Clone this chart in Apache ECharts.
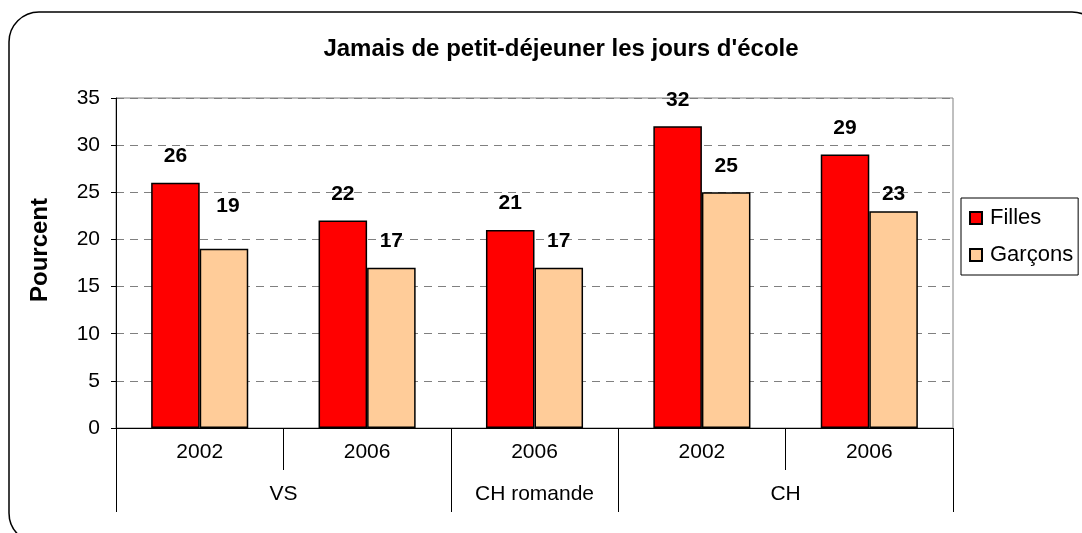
<!DOCTYPE html>
<html>
<head>
<meta charset="utf-8">
<script src="https://cdn.jsdelivr.net/npm/echarts@6/dist/echarts.min.js"></script>
<style>
  html, body { margin: 0; padding: 0; background: #fff; }
  #chart { width: 1082px; height: 533px; }
</style>
</head>
<body>
<div id="chart"></div>
<script>
// données
const years = ['2002', '2006', '2006', '2002', '2006'];
const groups = ['VS', 'CH romande', 'CH'];
const groupSpans = [2, 1, 2];
const filles = [26, 22, 21, 32, 29];
const garcons = [19, 17, 17, 25, 23];
const yTicks = [0, 5, 10, 15, 20, 25, 30, 35];

const FONT = 'Liberation Sans';

// positions des groupes (centre des libellés + séparateurs)
const groupCenters = [];
const groupBounds = [0];
let acc = 0;
groupSpans.forEach(s => {
  groupCenters.push(acc + s / 2);
  acc += s;
  groupBounds.push(acc);
});

const chart = echarts.init(document.getElementById('chart'));

// quelques libellés déplacés à la main dans l'original
const nudge = { 0: [4, -16], 4: [0, 10] };

const option = {
  backgroundColor: '#ffffff',
  animation: false,
  title: {
    text: "Jamais de petit-déjeuner les jours d'école",
    left: 556,
    top: 32,
    textAlign: 'center',
    textStyle: { fontFamily: FONT, fontSize: 24, fontWeight: 'bold', color: '#000' }
  },
  legend: {
    orient: 'vertical',
    left: 961,
    top: 198,
    padding: [9, 5, 9, 8],
    itemGap: 15,
    itemWidth: 12,
    itemHeight: 12,
    icon: 'rect',
    borderColor: '#000',
    borderWidth: 1,
    textStyle: { fontFamily: FONT, fontSize: 22, color: '#000', padding: [0, 0, 0, 3] },
    data: ['Filles', 'Garçons']
  },
  grid: {
    left: 116, right: 129, top: 98, bottom: 105,
    show: true, borderColor: '#808080', borderWidth: 1
  },
  xAxis: [{
    type: 'category',
    data: years,
    axisLine: { lineStyle: { color: '#000', width: 1 } },
    axisTick: { show: true, interval: 0, length: 42, lineStyle: { color: '#000' } },
    axisLabel: { interval: 0, margin: 14, fontFamily: FONT, fontSize: 21, color: '#000' }
  }, {
    type: 'value',
    min: 0,
    max: years.length,
    position: 'bottom',
    offset: 42,
    axisLine: { show: false },
    splitLine: { show: false },
    axisTick: { show: true, length: 42, customValues: groupBounds, lineStyle: { color: '#000' } },
    axisLabel: {
      margin: 14, fontFamily: FONT, fontSize: 21, color: '#000',
      customValues: groupCenters,
      formatter: v => {
        const i = groupCenters.indexOf(v);
        return i >= 0 ? groups[i] : '';
      }
    }
  }],
  yAxis: {
    type: 'value',
    min: 0,
    max: 35,
    interval: 5,
    name: 'Pourcent',
    nameLocation: 'middle',
    nameGap: 64,
    nameTextStyle: {
      fontFamily: FONT, fontSize: 24, fontWeight: 'bold', color: '#000',
      padding: [0, 0, 0, 26]
    },
    axisLine: { show: true, lineStyle: { color: '#000', width: 1 } },
    axisTick: { show: true, length: 5, lineStyle: { color: '#000' } },
    axisLabel: {
      margin: 16, fontFamily: FONT, fontSize: 21, color: '#000',
      formatter: v => (yTicks.indexOf(v) >= 0 ? String(v) : '')
    },
    splitLine: { show: true, lineStyle: { color: '#808080', type: [8, 6], width: 1 } }
  },
  series: [{
    name: 'Filles',
    type: 'bar',
    data: filles,
    barGap: '0%',
    barCategoryGap: '42%',
    itemStyle: { color: '#FF0000', borderColor: '#000', borderWidth: 1.5 },
    label: {
      show: true, position: 'top', distance: 16,
      fontFamily: FONT, fontSize: 21, fontWeight: 'bold', color: '#000'
    }
  }, {
    name: 'Garçons',
    type: 'bar',
    data: garcons.map((v, i) => nudge[i] ? { value: v, label: { offset: nudge[i] } } : v),
    barGap: '0%',
    barCategoryGap: '42%',
    itemStyle: { color: '#FFCC99', borderColor: '#000', borderWidth: 1.5 },
    label: {
      show: true, position: 'top', distance: 16,
      fontFamily: FONT, fontSize: 21, fontWeight: 'bold', color: '#000'
    }
  }],
  graphic: [{
    type: 'rect',
    silent: true,
    shape: { x: 9, y: 12, width: 1093, height: 531, r: 30 },
    style: { fill: null, stroke: '#000', lineWidth: 1.5 }
  }]
};

chart.setOption(option);
</script>
</body>
</html>
